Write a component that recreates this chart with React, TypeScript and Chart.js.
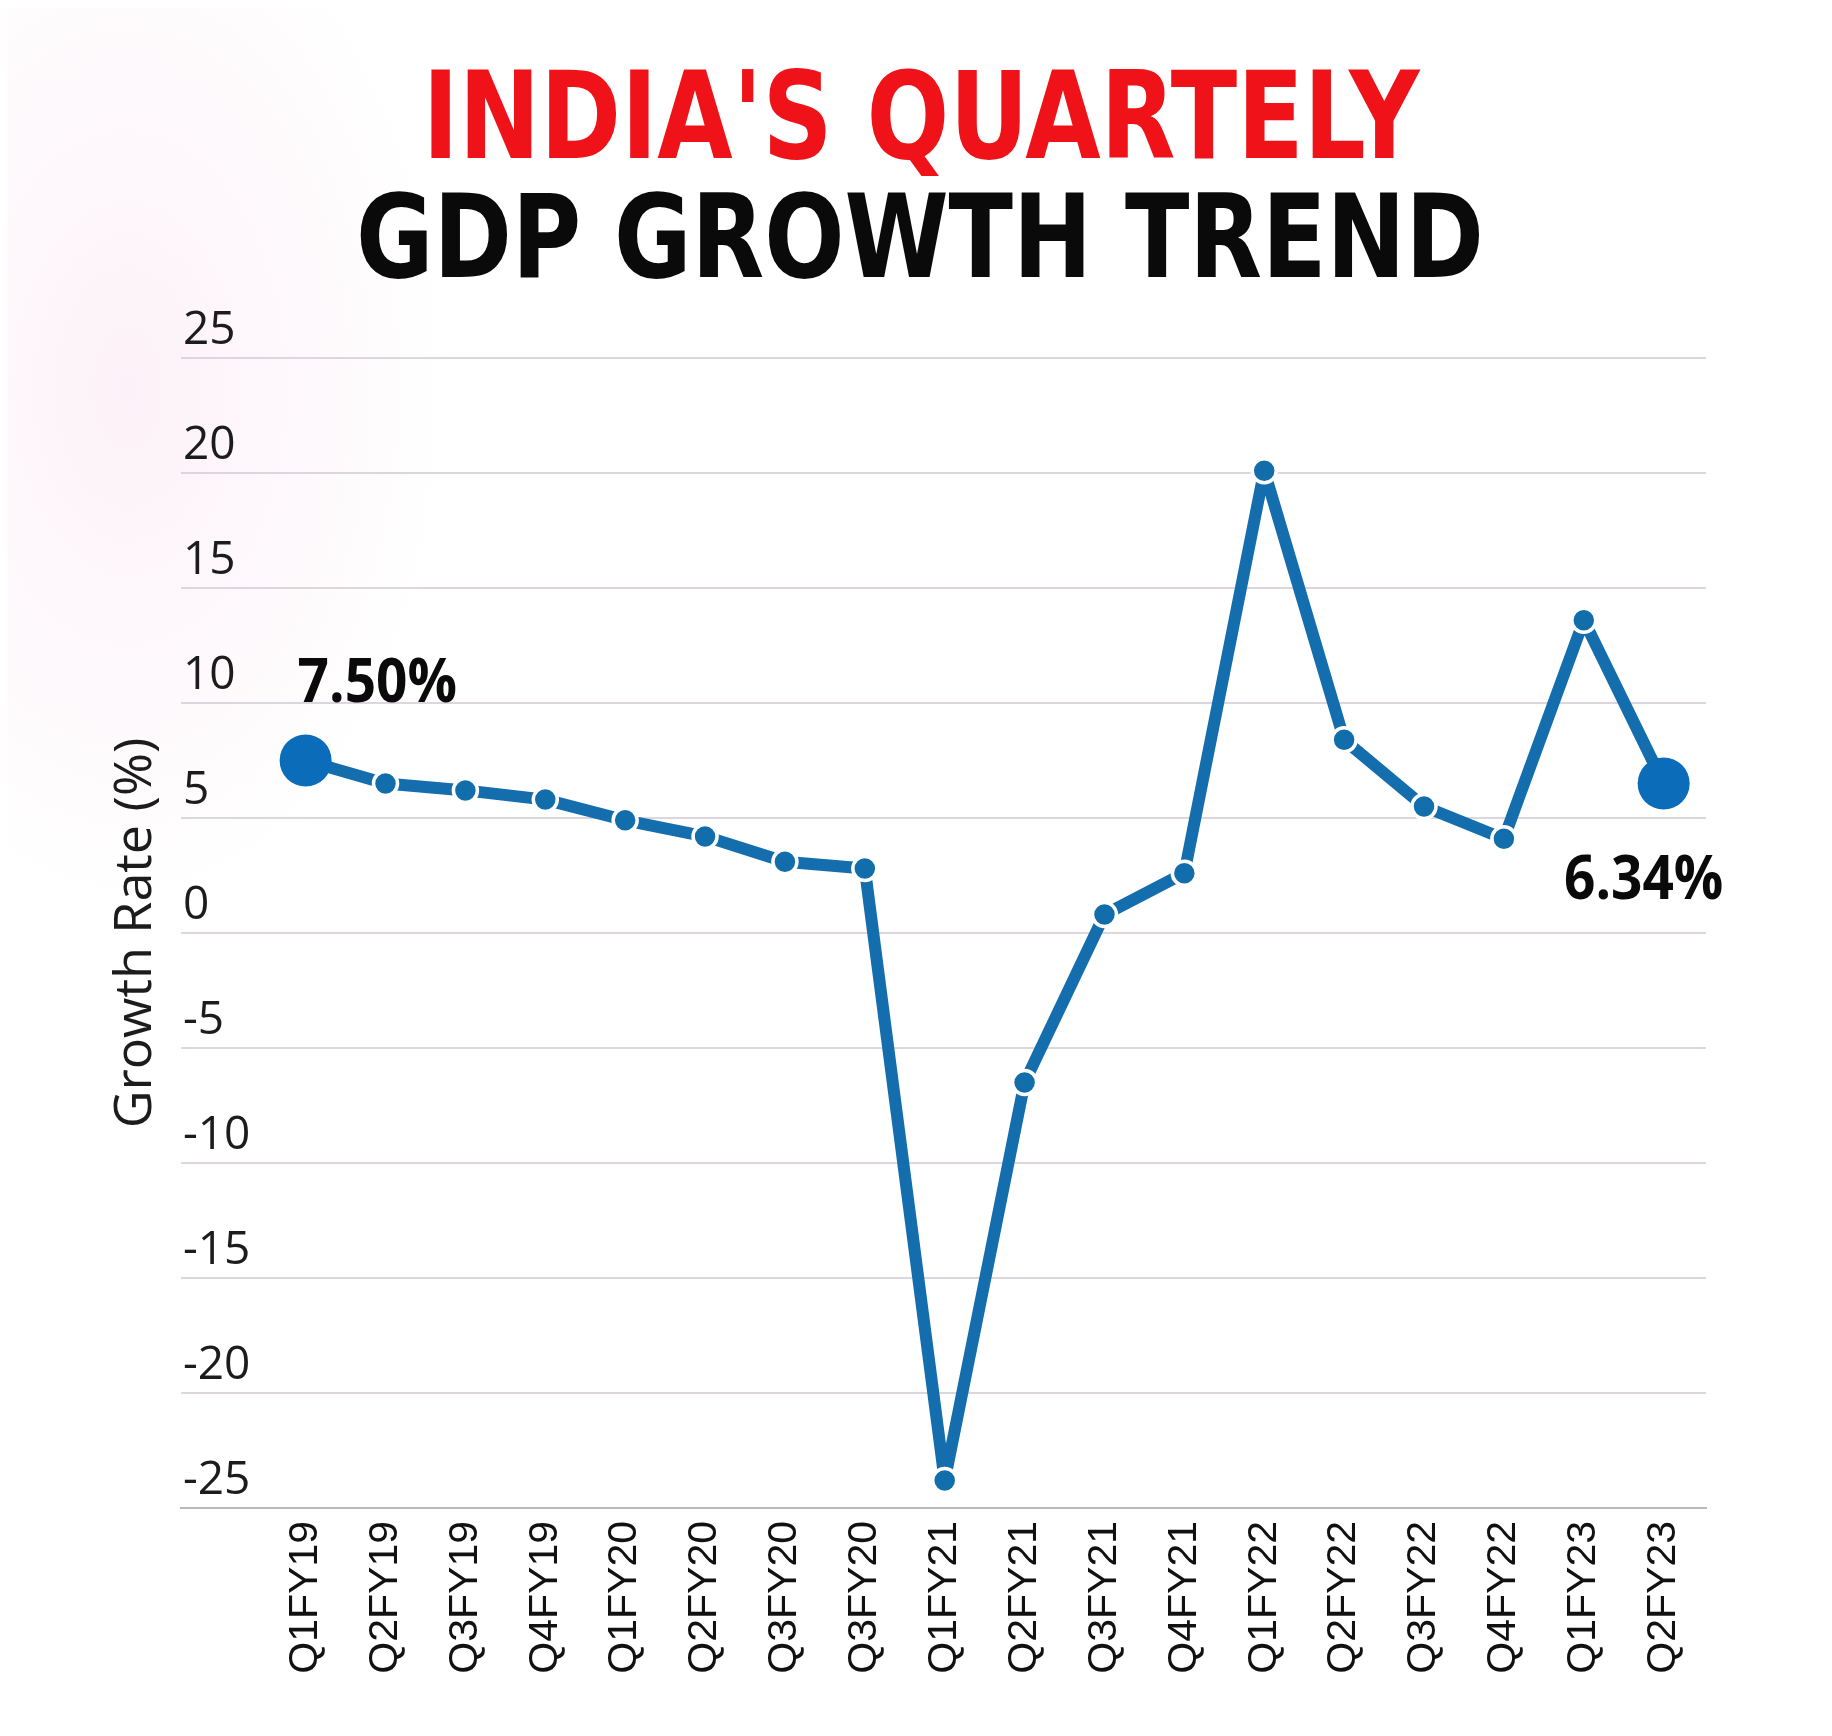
import React, { useEffect, useRef } from 'react';
import { Chart, registerables } from 'chart.js';

Chart.register(...registerables);

const quarters = [
  'Q1FY19', 'Q2FY19', 'Q3FY19', 'Q4FY19',
  'Q1FY20', 'Q2FY20', 'Q3FY20', 'Q3FY20',
  'Q1FY21', 'Q2FY21', 'Q3FY21', 'Q4FY21',
  'Q1FY22', 'Q2FY22', 'Q3FY22', 'Q4FY22',
  'Q1FY23', 'Q2FY23',
];
const growthRate = [
  7.5, 6.5, 6.2, 5.8,
  4.9, 4.2, 3.1, 2.8,
  -23.8, -6.5, 0.8, 2.6,
  20.1, 8.4, 5.5, 4.1,
  13.6, 6.5,
];
const yTickValues = [25, 20, 15, 10, 5, 0, -5, -10, -15, -20, -25];
const headlineLines = ["INDIA'S QUARTELY", 'GDP GROWTH TREND'];
const yAxisTitle = 'Growth Rate (%)';
const calloutIndexes = [0, 17];
const calloutTexts = ['7.50%', '6.34%'];

const LINE_BLUE = '#146EAE';
const DOT_BLUE = '#0B6DB9';

function drawFitted(
  ctx: CanvasRenderingContext2D,
  text: string,
  cx: number,
  baseline: number,
  font: string,
  color: string,
  targetWidth: number
) {
  ctx.save();
  ctx.font = font;
  const w = ctx.measureText(text).width || 1;
  ctx.translate(cx, baseline);
  ctx.scale(targetWidth / w, 1);
  ctx.textAlign = 'center';
  ctx.textBaseline = 'alphabetic';
  ctx.fillStyle = color;
  ctx.fillText(text, 0, 0);
  ctx.restore();
}

const headlinePlugin = {
  id: 'headline',
  afterDraw(chart: any) {
    const ctx = chart.ctx as CanvasRenderingContext2D;
    drawFitted(ctx, headlineLines[0], 913, 150,
      "bold 121px 'DejaVu Sans Condensed', 'DejaVu Sans', sans-serif", '#EF1219', 997);
    drawFitted(ctx, headlineLines[1], 912, 269,
      "bold 115px 'DejaVu Sans Condensed', 'DejaVu Sans', sans-serif", '#0A0A0A', 1128);
  },
};

const calloutPlugin = {
  id: 'callouts',
  afterDatasetsDraw(chart: any) {
    const ctx = chart.ctx as CanvasRenderingContext2D;
    const meta = chart.getDatasetMeta(0);
    calloutIndexes.forEach((idx, k) => {
      const pt = meta.data[idx];
      if (!pt) return;
      ctx.save();
      ctx.font = "bold 61px 'Open Sans', sans-serif";
      ctx.fillStyle = '#0A0A0A';
      ctx.textBaseline = 'alphabetic';
      const sx = 0.9;
      const isFirst = idx === 0;
      const x = isFirst ? pt.x - 8 : pt.x - 20;
      const y = isFirst ? pt.y - 59 : pt.y + 115;
      ctx.translate(x, y);
      ctx.scale(sx, 1);
      ctx.textAlign = isFirst ? 'left' : 'center';
      ctx.fillText(calloutTexts[k], 0, 0);
      ctx.restore();
    });
  },
};

export default function App() {
  const canvasRef = useRef<HTMLCanvasElement | null>(null);

  useEffect(() => {
    if (!canvasRef.current) return;
    const lastIdx = quarters.length - 1;
    const radii = quarters.map((_, i) => (i === 0 || i === lastIdx ? 26 : 12));
    const borders = quarters.map((_, i) => (i === 0 || i === lastIdx ? 0 : 3.5));
    const fills = quarters.map((_, i) => (i === 0 || i === lastIdx ? DOT_BLUE : '#126DAB'));

    const chart = new Chart(canvasRef.current, {
      type: 'line',
      data: {
        datasets: [
          {
            data: growthRate.map((v, i) => ({ x: i, y: v })),
            borderColor: LINE_BLUE,
            borderWidth: 12,
            tension: 0,
            fill: false,
            pointRadius: radii,
            pointBackgroundColor: fills,
            pointBorderColor: '#FFFFFF',
            pointBorderWidth: borders,
            borderCapStyle: 'round',
            borderJoinStyle: 'round',
          } as any,
        ],
      },
      options: {
        animation: false,
        responsive: false,
        maintainAspectRatio: false,
        layout: { padding: { left: 93, right: 118, top: 350, bottom: 20 } },
        plugins: {
          legend: { display: false },
          tooltip: { enabled: false },
          title: { display: false },
        },
        scales: {
          x: {
            type: 'linear',
            min: -1.56,
            max: 17.53,
            grid: { display: false, drawTicks: false },
            border: { display: true, color: '#BDB5BF', width: 2 },
            afterBuildTicks: (scale: any) => {
              scale.ticks = quarters.map((_, i) => ({ value: i }));
            },
            afterFit: (scale: any) => {
              scale.height = 200;
            },
            ticks: {
              autoSkip: false,
              minRotation: 90,
              maxRotation: 90,
              padding: 13,
              color: '#111111',
              font: { family: "'Liberation Sans', Arial, sans-serif", size: 41 },
              callback: (v: any) => quarters[v as number] ?? '',
            },
          },
          y: {
            type: 'linear',
            min: -25,
            max: 25,
            afterBuildTicks: (scale: any) => {
              scale.ticks = yTickValues.map((v) => ({ value: v }));
            },
            afterFit: (scale: any) => {
              scale.width = 80;
            },
            grid: { color: '#DDD6DF', lineWidth: 2, drawTicks: false },
            border: { display: false },
            ticks: {
              mirror: true,
              padding: 2,
              labelOffset: -27,
              color: '#1C1C1C',
              font: { family: "'Open Sans', sans-serif", size: 46 },
            },
            title: {
              display: true,
              text: yAxisTitle,
              color: '#1C1C1C',
              font: { family: "'Open Sans', sans-serif", size: 52 },
              padding: { top: 4, bottom: 4 },
            },
          },
        },
      } as any,
      plugins: [headlinePlugin, calloutPlugin],
    });
    return () => chart.destroy();
  }, []);

  return (
    <div
      style={{
        width: 1816,
        height: 1720,
        background:
          'radial-gradient(ellipse 320px 520px at 120px 380px, rgba(250,230,242,0.55), rgba(255,255,255,0) 100%), #FFFFFF',
      }}
    >
      <canvas ref={canvasRef} width={1816} height={1720} style={{ display: 'block' }} />
    </div>
  );
}
